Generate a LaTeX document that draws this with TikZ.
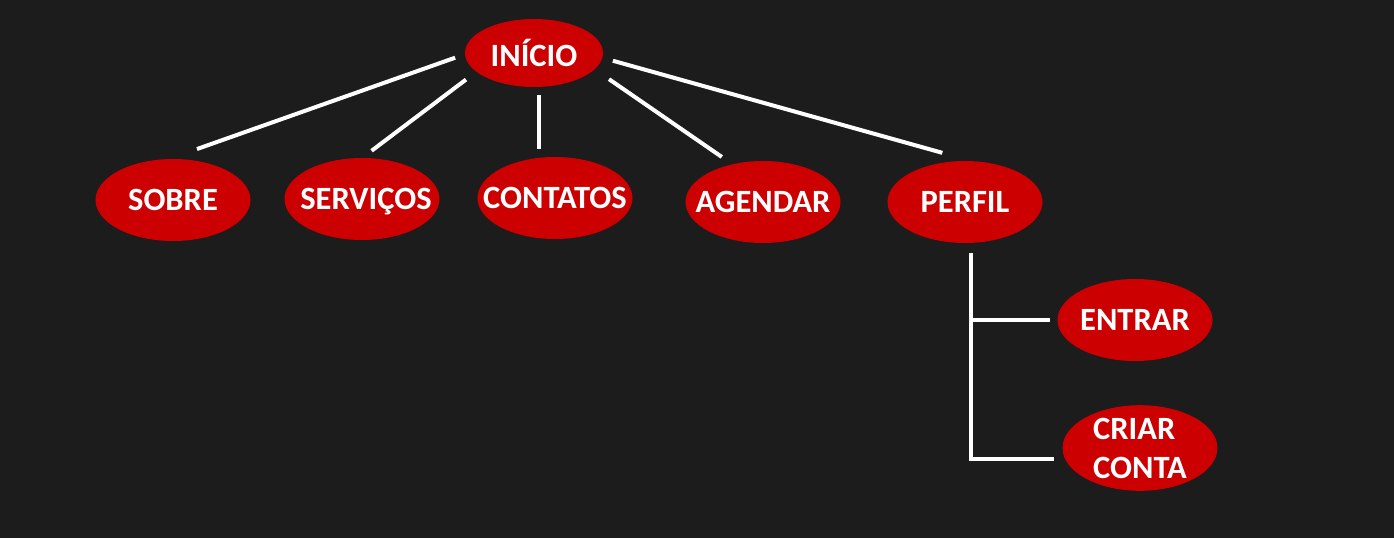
\documentclass[tikz,border=0pt]{standalone}
\usepackage{fontspec}
\setmainfont{Carlito}
\usepackage{tikz}
\usetikzlibrary{positioning, shapes.geometric}
\definecolor{bgdark}{RGB}{28,28,28}
\definecolor{menured}{RGB}{204,0,0}

\begin{document}
\begin{tikzpicture}[x=1pt, y=-1pt, on grid,
    bubble/.style={ellipse, fill=menured, text=white, inner sep=0pt, outer sep=0pt, minimum width=155pt, minimum height=82pt, font=\bfseries\fontsize{32.5pt}{39pt}\selectfont},
    link/.style={draw=white, line width=4pt}]
    % Background
    \fill[bgdark] (0,0) rectangle (1394,538);
    \useasboundingbox (0,0) rectangle (1394,538);

    % Root
    \node (inicio) [bubble, minimum width=138pt, minimum height=68pt] at (534,53) {\makebox[0pt]{INÍCIO}};

    % First level
    \node (sobre) [bubble, below left=147pt and 361pt of inicio] {\makebox[0pt]{SOBRE}};
    \node (servicos) [bubble, below left=146pt and 172pt of inicio, text depth=0pt] {\makebox[0pt]{\hspace{8pt}SERVIÇOS}};
    \node (contatos) [bubble, below right=145pt and 21pt of inicio] {\makebox[0pt]{CONTATOS}};
    \node (agendar) [bubble, below right=149pt and 229pt of inicio] {\makebox[0pt]{AGENDAR}};
    \node (perfil) [bubble, below right=149pt and 431pt of inicio] {\makebox[0pt]{PERFIL}};

    % Second level
    \node (entrar) [bubble, below right=118pt and 170pt of perfil] {\makebox[0pt]{ENTRAR}};
    \node (criar) [bubble, below right=128pt and 5pt of entrar, align=left] {CRIAR\\CONTA};

    % Connectors
    \draw[link, shorten <=10.5pt, shorten >=30pt] (inicio.181) -- (sobre.96);
    \draw[link, shorten <=13pt, shorten >=12pt] (inicio.198) -- (servicos.north);
    \draw[link, shorten <=8pt, shorten >=8pt] (inicio.278) -- (inicio.278 |- contatos.north);
    \draw[link, shorten <=17.5pt, shorten >=13pt] (inicio.345) -- (agendar.129);
    \draw[link, shorten <=11pt, shorten >=31pt] (inicio.356) -- (perfil.80);
    \draw[link] ([xshift=6pt, yshift=-10pt]perfil.south) |- ([xshift=-9pt, yshift=-11pt]criar.west);
    \draw[link] ([xshift=6pt]perfil.south |- entrar.west) -- ([xshift=-8pt]entrar.west);
\end{tikzpicture}
\end{document}
